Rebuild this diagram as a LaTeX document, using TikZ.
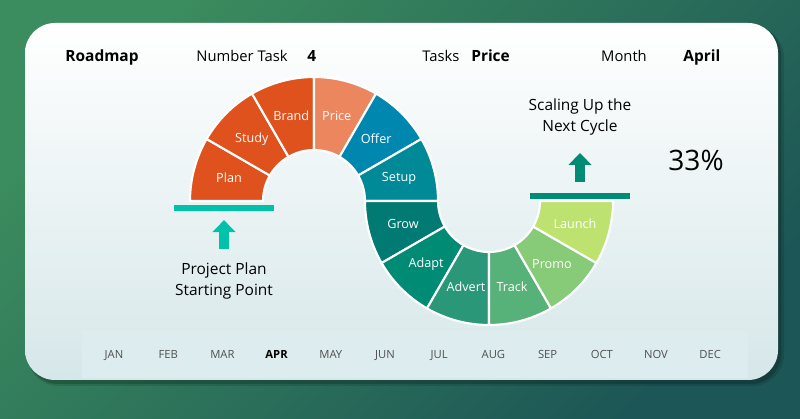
\documentclass[tikz,border=0pt]{standalone}
\usepackage{fontspec}
\setmainfont{Open Sans}
\usetikzlibrary{positioning, arrows.meta}

\definecolor{bgTop}{HTML}{3B8C5E}
\definecolor{bgBottom}{HTML}{1D5656}
\definecolor{cardLow}{HTML}{D6E7E9}
\definecolor{cardMid}{HTML}{EEF5F5}
\definecolor{stripFill}{HTML}{DDECEE}
\definecolor{monthGrey}{HTML}{505050}
\definecolor{segOrange}{HTML}{E0521D}
\definecolor{segSalmon}{HTML}{EB865F}
\definecolor{segBlue}{HTML}{0087B0}
\definecolor{segTeal}{HTML}{008A98}
\definecolor{segGrow}{HTML}{007A72}
\definecolor{segAdapt}{HTML}{008B74}
\definecolor{segAdvert}{HTML}{2A9779}
\definecolor{segTrack}{HTML}{57B27A}
\definecolor{segPromo}{HTML}{87CB78}
\definecolor{segLaunch}{HTML}{BEE26F}
\definecolor{startTeal}{HTML}{00C2A8}
\definecolor{nextTeal}{HTML}{008C74}

\tikzset{%
  % Specifications for style of nodes:
            base/.style = {inner sep=0pt, text=black,
                           font=\fontsize{10.5}{13}\selectfont},
            headBold/.style = {base, font=\fontsize{11}{13}\selectfont\bfseries},
            segLbl/.style = {base, text=white, font=\fontsize{9}{11}\selectfont},
            monthLbl/.style = {base, text=monthGrey, font=\fontsize{8}{10}\selectfont},
            monthNow/.style = {monthLbl, text=black, font=\fontsize{8}{10}\selectfont\bfseries},
            note/.style = {base, align=center, font=\fontsize{11}{15.6}\selectfont},
            bar/.style = {inner sep=0pt, minimum width=2.475cm, minimum height=0.15cm},
            upArrow/.style = {-{Triangle[width=0.56cm, length=0.3cm]}, line width=0.26cm},
            segment/.style = {draw=white, line width=1.5pt, line join=round},
 }

\begin{document}
\begin{tikzpicture}[x=0.025cm, y=0.025cm]
  % Background and card
  \useasboundingbox (0,0) rectangle (800,419);
  \shade[top color=bgTop, bottom color=bgBottom, shading angle=45] (0,0) rectangle (800,419);
  \fill[black, opacity=0.12, rounded corners=0.8cm] (27,33) rectangle (784,393);
  \fill[black, opacity=0.18, rounded corners=0.75cm] (28,35) rectangle (781,394);
  \shade[rounded corners=0.75cm, top color=white, middle color=cardMid, bottom color=cardLow] (25,39) rectangle (778,396);
  \fill[stripFill] (82,41) rectangle (748,88);

  % Specification of header nodes
  \node (roadmap) [headBold, anchor=base] at (102,357) {Roadmap};
  \node (numTask) [base, anchor=base] at (242,357) {Number Task};
  \node (numVal) [headBold, base right=0.48cm of numTask] {4};
  \node (taskHead) [base, anchor=base] at (441,357) {Tasks};
  \node (taskVal) [headBold, base right=0.28cm of taskHead] {Price};
  \node (monthHead) [base, anchor=base] at (624,357) {Month};
  \node (monthVal) [headBold, base right=0.9cm of monthHead] {April};

  % Upper half of the road (centre hubUp)
  \coordinate (hubUp) at (314,218);
  \coordinate (hubLow) at (489,218);
  \foreach \a/\name/\col in {180/Plan/segOrange, 150/Study/segOrange, 120/Brand/segOrange,
                             90/Price/segSalmon, 60/Offer/segBlue, 30/Setup/segTeal}{
    \filldraw[segment, fill=\col] ([shift={(\a:124)}]hubUp) arc[start angle=\a, end angle=\a-30, radius=124]
      -- ([shift={(\a-30:51)}]hubUp) arc[start angle=\a-30, end angle=\a, radius=51] -- cycle;
    \node (lbl\name) [segLbl] at ([shift={(\a-15:88)}]hubUp) {\name};
  }

  % Lower half of the road (centre hubLow)
  \foreach \a/\name/\col in {180/Grow/segGrow, 210/Adapt/segAdapt, 240/Advert/segAdvert,
                             270/Track/segTrack, 300/Promo/segPromo, 330/Launch/segLaunch}{
    \filldraw[segment, fill=\col] ([shift={(\a:124)}]hubLow) arc[start angle=\a, end angle=\a+30, radius=124]
      -- ([shift={(\a+30:51)}]hubLow) arc[start angle=\a+30, end angle=\a, radius=51] -- cycle;
    \node (lbl\name) [segLbl] at ([shift={(\a+15:89)}]hubLow) {\name};
  }

  % Start and end markers
  \node (startBar) [bar, fill=startTeal] at (224,211) {};
  \node (nextBar) [bar, fill=nextTeal] at (580,223) {};
  \node (startNote) [note] at (224,138) {Project Plan\\Starting Point};
  \node (nextNote) [note] at (580,302) {Scaling Up the\\Next Cycle};
  \node (pctVal) [base, font=\fontsize{20}{24}\selectfont] at (696,259) {33\%};

  \draw[upArrow, startTeal, shorten <=0.33cm, shorten >=0.22cm] (startNote.north) -- (startBar.south);
  \draw[upArrow, nextTeal, shorten <=0.275cm, shorten >=0.425cm] (nextBar.north) -- (nextNote.south);

  % Month strip
  \foreach \m/\s [count=\i from 0] in {JAN/monthLbl, FEB/monthLbl, MAR/monthLbl, APR/monthNow,
                                       MAY/monthLbl, JUN/monthLbl, JUL/monthLbl, AUG/monthLbl,
                                       SEP/monthLbl, OCT/monthLbl, NOV/monthLbl, DEC/monthLbl}
    \node (mon\m) [\s, anchor=base] at ({114+54.2*\i},60) {\m};

\end{tikzpicture}
\end{document}
